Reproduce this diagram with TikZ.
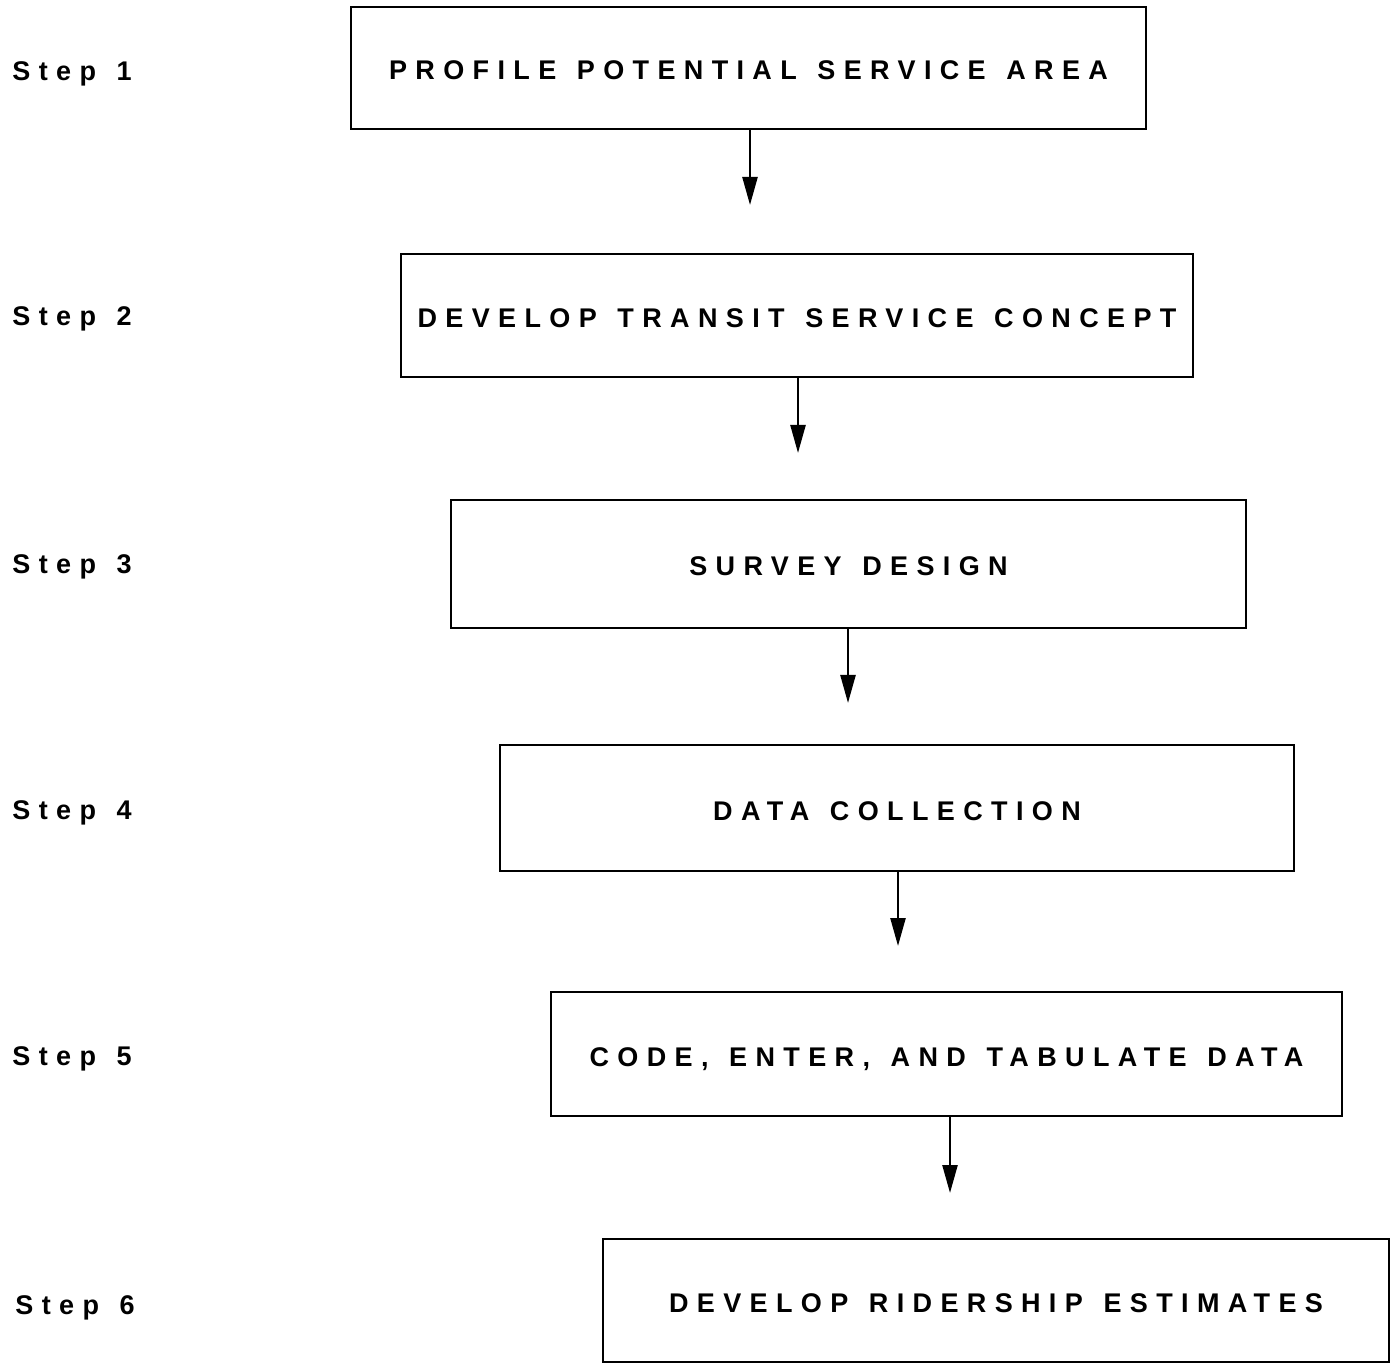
\documentclass[tikz,border=0pt]{standalone}
\usepackage{fontspec}
\setmainfont{Liberation Sans}
\newfontfamily\spacedfont{Liberation Sans}[LetterSpace=31,WordSpace=1.3]
\usetikzlibrary{arrows.meta}
\tikzset{
  stepbox/.style={draw=black, line width=1.4pt, inner sep=0pt,
    font=\spacedfont\bfseries\fontsize{13.5pt}{15pt}\selectfont,
    text height=12pt, text depth=0pt, align=center},
  steplabel/.style={inner sep=0pt, anchor=base west,
    font=\spacedfont\bfseries\fontsize{13.5pt}{15pt}\selectfont},
  flow/.style={line width=1.2pt, -{Triangle[length=14pt,width=7.5pt]}}
}
\begin{document}
\begin{tikzpicture}[x=0.5pt,y=-0.5pt]
\useasboundingbox (0,0) rectangle (1398,1363);
\fill[white] (0,0) rectangle (1398,1363);

% boxes
\node[stepbox, minimum width=397.5pt, minimum height=61pt] (b1) at (748.5,68) {PROFILE POTENTIAL SERVICE AREA};
\node[stepbox, minimum width=396pt, minimum height=61.5pt] (b2) at (797,315.5) {DEVELOP TRANSIT SERVICE CONCEPT};
\node[stepbox, minimum width=397.5pt, minimum height=64pt] (b3) at (848.5,564) {SURVEY DESIGN};
\node[stepbox, minimum width=397pt, minimum height=63pt] (b4) at (897,808) {DATA COLLECTION};
\node[stepbox, minimum width=395.5pt, minimum height=62pt] (b5) at (946.5,1054) {CODE, ENTER, AND TABULATE DATA};
\node[stepbox, minimum width=393pt, minimum height=61.5pt] (b6) at (996,1300.5) {DEVELOP RIDERSHIP ESTIMATES};

% step labels
\node[steplabel] (s1) at (12,81) {Step 1};
\node[steplabel] (s2) at (12,326) {Step 2};
\node[steplabel] (s3) at (12,574) {Step 3};
\node[steplabel] (s4) at (12,819) {Step 4};
\node[steplabel] (s5) at (12,1065) {Step 5};
\node[steplabel] (s6) at (15,1314) {Step 6};

% arrow ends
\coordinate (e1) at (750,205);
\coordinate (e2) at (798,453);
\coordinate (e3) at (848,703);
\coordinate (e4) at (898,946);
\coordinate (e5) at (950,1193);

\draw[flow] (b1.south -| e1) -- (e1);
\draw[flow] (b2.south -| e2) -- (e2);
\draw[flow] (b3.south -| e3) -- (e3);
\draw[flow] (b4.south -| e4) -- (e4);
\draw[flow] (b5.south -| e5) -- (e5);
\end{tikzpicture}
\end{document}
